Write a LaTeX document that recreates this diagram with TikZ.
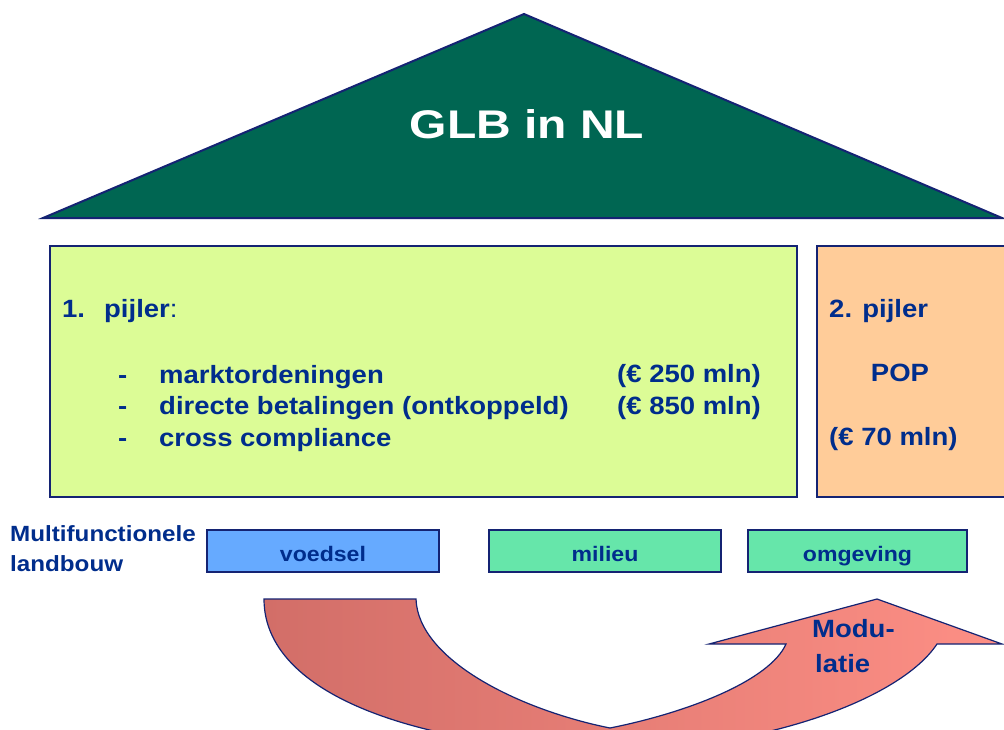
\documentclass[tikz,border=0pt]{standalone}
\usepackage{fontspec}
\setmainfont{Liberation Sans}[FakeStretch=1.1]
\newfontfamily\kopfont{Liberation Sans}[FakeStretch=1.2]

\definecolor{navy}{RGB}{0,45,140}
\definecolor{randblauw}{RGB}{20,35,115}
\definecolor{dakgroen}{RGB}{0,102,82}
\definecolor{lichtgroen}{RGB}{220,252,150}
\definecolor{oranje}{RGB}{255,204,153}
\definecolor{blauw}{RGB}{102,170,255}
\definecolor{mint}{RGB}{102,230,170}
\definecolor{rood}{RGB}{210,110,104}
\definecolor{roze}{RGB}{253,143,133}

\tikzset{
  tekst/.style={text=navy, inner sep=0pt, font=\fontsize{25}{30}\selectfont\bfseries},
  vak/.style={draw=randblauw, line width=2pt},
  functie/.style={vak, minimum height=42pt, inner sep=0pt, text height=20pt, text depth=0pt,
    text=navy, font=\fontsize{21}{25}\selectfont\bfseries},
}

\begin{document}
\begin{tikzpicture}[x=1pt, y=-1pt]
    \useasboundingbox (0,0) rectangle (1004,729);
    \fill[white] (0,0) rectangle (1004,729);
    \clip (0,0) rectangle (1004,729);
    % dak
    \draw[vak, fill=dakgroen] (43,218) -- (524,14) -- (1002,218) -- cycle;
    \node[anchor=base, inner sep=0pt, text=white, font=\kopfont\fontsize{40}{48}\selectfont\bfseries]
        (glb) at (527,138) {GLB in NL};
    % pijlers
    \draw[vak, fill=lichtgroen] (50,246) rectangle (797,497);
    \draw[vak, fill=oranje] (817,246) rectangle (1012,497);
    \node[tekst, anchor=base west] (p1) at (62,317) {\makebox[42pt][l]{1.}pijler{\mdseries:}};
    \node[tekst, anchor=base west] (d1) at (118,383) {-};
    \node[tekst, anchor=base west] (d2) at (118,414) {-};
    \node[tekst, anchor=base west] (d3) at (118,446) {-};
    \node[tekst, anchor=base west] (markt) at (159,383) {marktordeningen};
    \node[tekst, anchor=base west] (direct) at (159,414) {directe betalingen (ontkoppeld)};
    \node[tekst, anchor=base west] (cross) at (159,446) {cross compliance};
    \node[tekst, anchor=base west] (b250) at (617,382) {(€ 250 mln)};
    \node[tekst, anchor=base west] (b850) at (617,414) {(€ 850 mln)};
    \node[tekst, anchor=base west] (p2) at (829,317) {2. pijler};
    \node[tekst, anchor=base] (pop) at (900,381) {POP};
    \node[tekst, anchor=base west] (b70) at (829,445) {(€ 70 mln)};
    % functies
    \node[tekst, anchor=base west, font=\fontsize{22}{26}\selectfont\bfseries] (multi) at (10,541) {Multifunctionele};
    \node[tekst, anchor=base west, font=\fontsize{22}{26}\selectfont\bfseries] (land) at (10,571) {landbouw};
    \node[functie, fill=blauw, minimum width=232pt] (voedsel) at (323,551) {voedsel};
    \node[functie, fill=mint, minimum width=232pt] (milieu) at (605,551) {milieu};
    \node[functie, fill=mint, minimum width=219pt] (omgeving) at (857.5,551) {omgeving};
    % pijl
    \draw[randblauw, line width=1.2pt, left color=rood, right color=roze]
        (264,599) -- (416,599) .. controls (418,660) and (520,710) .. (610,728)
        .. controls (690,712) and (770,680) .. (786,644) -- (709,644) -- (877,599)
        -- (1002,644) -- (937,644) .. controls (900,700) and (760,750) .. (610,750)
        .. controls (450,750) and (264,705) .. (264,599) -- cycle;
    \node[tekst, anchor=base west, font=\fontsize{25}{28}\selectfont\bfseries] (modu) at (812,637) {Modu-};
    \node[tekst, anchor=base west, font=\fontsize{25}{28}\selectfont\bfseries] (latie) at (815,672) {latie};
\end{tikzpicture}
\end{document}
